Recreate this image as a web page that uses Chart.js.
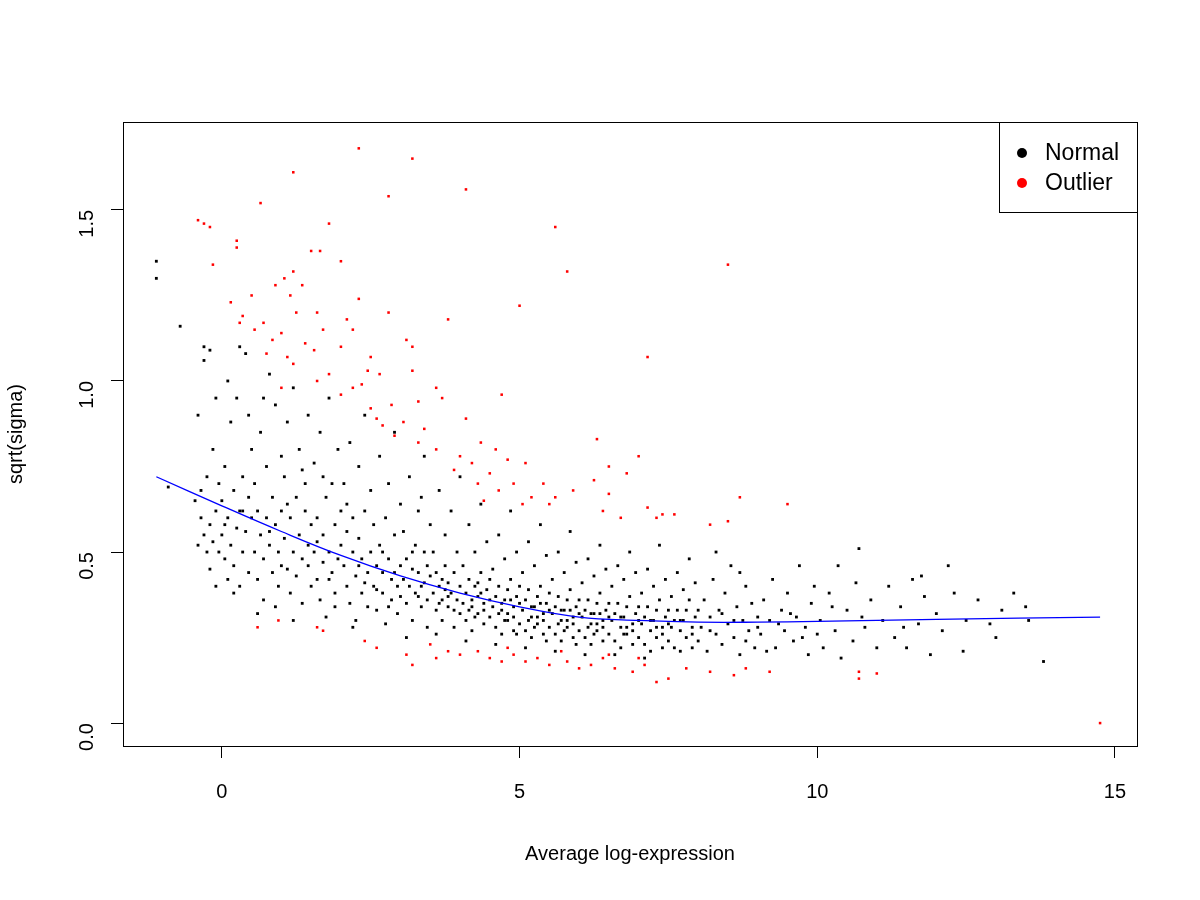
<!DOCTYPE html>
<html>
<head>
<meta charset="utf-8">
<script src="https://cdn.jsdelivr.net/npm/chart.js@4/dist/chart.umd.min.js"></script>
<style>
body { margin: 0; background: #fff; }
#wrap { width: 1200px; height: 900px; }
</style>
</head>
<body>
<div id="wrap"><canvas id="grafico" width="1200" height="900"></canvas></div>
<script>
// pontos (aproximados) - [x, y]
const pontosNormais = [
 [-1.1,1.35],[-1.1,1.30],[-0.7,1.16],[-0.9,0.69],
 [-0.45,0.65],[-0.4,0.9],[-0.35,0.6],[-0.3,0.55],[-0.3,1.06],[-0.25,0.5],[-0.25,0.72],[-0.2,0.58],[-0.2,0.45],[-0.15,0.8],[-0.15,0.53],[-0.1,0.62],[-0.1,0.4],[-0.05,0.7],[-0.05,0.5],[-0.3,1.1],[-0.2,1.09],[-0.1,0.95],[-0.4,0.52],[-0.35,0.68],
 [0,0.55],[0,0.65],[0.05,0.48],[0.05,0.75],[0.1,0.42],[0.1,0.6],[0.15,0.52],[0.15,0.88],[0.2,0.68],[0.2,0.46],[0.25,0.57],[0.25,0.95],[0.3,0.62],[0.3,0.4],[0.35,0.5],[0.35,0.72],[0.4,0.56],[0.4,1.08],[0.45,0.66],[0.45,0.44],[0.5,0.6],[0.5,0.8],[0.1,1.0],[0.3,1.1],[0.2,0.38],[0.45,0.9],[0.05,0.58],[0.35,0.62],
 [0.55,0.5],[0.55,0.7],[0.6,0.42],[0.6,0.62],[0.65,0.55],[0.65,0.85],[0.7,0.48],[0.7,0.36],[0.75,0.6],[0.75,0.75],[0.8,0.52],[0.8,1.02],[0.85,0.44],[0.85,0.66],[0.9,0.58],[0.9,0.93],[0.95,0.4],[0.95,0.5],[1.0,0.62],[1.0,0.78],[0.6,0.32],[0.9,0.34],[0.7,0.95],[1.0,0.46],[0.8,0.56],
 [1.05,0.54],[1.05,0.72],[1.1,0.45],[1.1,0.88],[1.15,0.6],[1.15,0.38],[1.2,0.5],[1.2,0.98],[1.25,0.66],[1.25,0.43],[1.3,0.55],[1.3,0.8],[1.35,0.48],[1.35,0.35],[1.4,0.62],[1.4,0.7],[1.45,0.52],[1.45,0.9],[1.5,0.4],[1.5,0.58],[1.2,0.3],[1.35,0.74],[1.45,0.46],[1.1,0.64],
 [1.55,0.5],[1.55,0.76],[1.6,0.42],[1.6,0.6],[1.65,0.36],[1.65,0.85],[1.7,0.55],[1.7,0.47],[1.75,0.66],[1.75,0.31],[1.8,0.5],[1.8,0.95],[1.85,0.44],[1.85,0.7],[1.9,0.58],[1.9,0.38],[1.95,0.48],[1.95,0.8],[2.0,0.52],[2.0,0.62],[1.7,0.72],[1.9,0.34],[1.6,0.53],[1.8,0.42],
 [2.05,0.46],[2.05,0.7],[2.1,0.4],[2.1,0.56],[2.15,0.35],[2.15,0.82],[2.2,0.5],[2.2,0.6],[2.25,0.43],[2.25,0.3],[2.3,0.54],[2.3,0.75],[2.35,0.38],[2.35,0.48],[2.4,0.62],[2.4,0.9],[2.45,0.44],[2.45,0.34],[2.5,0.5],[2.5,0.68],[2.2,0.28],[2.4,0.41],[2.3,0.46],[2.1,0.64],
 [2.55,0.4],[2.55,0.58],[2.6,0.46],[2.6,0.33],[2.65,0.52],[2.65,0.78],[2.7,0.38],[2.7,0.44],[2.75,0.6],[2.75,0.29],[2.8,0.48],[2.8,0.7],[2.85,0.36],[2.85,0.42],[2.9,0.55],[2.9,0.85],[2.95,0.4],[2.95,0.32],[3.0,0.46],[3.0,0.64],[2.6,0.39],[2.8,0.34],[2.7,0.5],[2.9,0.44],[3.0,0.37],
 [3.05,0.42],[3.05,0.56],[3.1,0.35],[3.1,0.48],[3.15,0.4],[3.15,0.72],[3.2,0.3],[3.2,0.45],[3.25,0.52],[3.25,0.38],[3.3,0.44],[3.3,0.62],[3.35,0.34],[3.35,0.4],[3.4,0.5],[3.4,0.78],[3.45,0.36],[3.45,0.28],[3.5,0.43],[3.5,0.58],[3.1,0.25],[3.3,0.37],[3.4,0.41],[3.2,0.5],[3.45,0.46],[3.35,0.66],
 [3.55,0.38],[3.55,0.5],[3.6,0.33],[3.6,0.44],[3.65,0.4],[3.65,0.68],[3.7,0.3],[3.7,0.36],[3.75,0.46],[3.75,0.55],[3.8,0.34],[3.8,0.41],[3.85,0.38],[3.85,0.62],[3.9,0.28],[3.9,0.44],[3.95,0.36],[3.95,0.5],[4.0,0.32],[4.0,0.4],[3.6,0.26],[3.7,0.42],[3.8,0.37],[3.9,0.33],[4.0,0.72],[3.75,0.39],[3.65,0.35],
 [4.05,0.35],[4.05,0.46],[4.1,0.3],[4.1,0.38],[4.15,0.42],[4.15,0.58],[4.2,0.27],[4.2,0.34],[4.25,0.4],[4.25,0.5],[4.3,0.32],[4.3,0.37],[4.35,0.44],[4.35,0.64],[4.4,0.29],[4.4,0.35],[4.45,0.39],[4.45,0.53],[4.5,0.31],[4.5,0.42],[4.1,0.24],[4.2,0.36],[4.3,0.41],[4.4,0.33],[4.5,0.36],[4.25,0.31],[4.35,0.38],[4.15,0.33],
 [4.55,0.34],[4.55,0.45],[4.6,0.28],[4.6,0.37],[4.65,0.4],[4.65,0.55],[4.7,0.26],[4.7,0.33],[4.75,0.36],[4.75,0.48],[4.8,0.3],[4.8,0.39],[4.85,0.42],[4.85,0.62],[4.9,0.27],[4.9,0.34],[4.95,0.37],[4.95,0.5],[5.0,0.29],[5.0,0.4],[4.6,0.23],[4.7,0.35],[4.8,0.32],[4.9,0.31],[5.0,0.35],[4.75,0.3],[4.85,0.36],[4.65,0.32],[4.95,0.26],
 [5.05,0.33],[5.05,0.44],[5.1,0.27],[5.1,0.36],[5.15,0.39],[5.15,0.53],[5.2,0.25],[5.2,0.31],[5.25,0.34],[5.25,0.46],[5.3,0.29],[5.3,0.37],[5.35,0.4],[5.35,0.58],[5.4,0.26],[5.4,0.32],[5.45,0.35],[5.45,0.49],[5.5,0.28],[5.5,0.38],[5.1,0.22],[5.2,0.34],[5.3,0.31],[5.4,0.3],[5.5,0.33],[5.25,0.28],[5.35,0.35],[5.15,0.3],[5.45,0.24],
 [5.55,0.32],[5.55,0.42],[5.6,0.26],[5.6,0.34],[5.65,0.37],[5.65,0.5],[5.7,0.24],[5.7,0.3],[5.75,0.33],[5.75,0.44],[5.8,0.28],[5.8,0.36],[5.85,0.39],[5.85,0.56],[5.9,0.25],[5.9,0.31],[5.95,0.34],[5.95,0.47],[6.0,0.27],[6.0,0.36],[5.6,0.21],[5.7,0.33],[5.8,0.3],[5.9,0.29],[6.0,0.32],[5.75,0.27],[5.85,0.33],[5.65,0.29],[5.95,0.23],
 [6.05,0.31],[6.05,0.41],[6.1,0.25],[6.1,0.33],[6.15,0.36],[6.15,0.48],[6.2,0.23],[6.2,0.29],[6.25,0.32],[6.25,0.43],[6.3,0.27],[6.3,0.35],[6.35,0.38],[6.35,0.52],[6.4,0.24],[6.4,0.3],[6.45,0.33],[6.45,0.45],[6.5,0.26],[6.5,0.35],[6.1,0.2],[6.2,0.32],[6.3,0.29],[6.4,0.28],[6.5,0.31],[6.25,0.26],[6.35,0.32],[6.15,0.28],
 [6.55,0.3],[6.55,0.4],[6.6,0.24],[6.6,0.32],[6.65,0.35],[6.65,0.46],[6.7,0.22],[6.7,0.28],[6.75,0.31],[6.75,0.42],[6.8,0.26],[6.8,0.34],[6.85,0.37],[6.85,0.5],[6.9,0.23],[6.9,0.29],[6.95,0.32],[6.95,0.44],[7.0,0.25],[7.0,0.34],[6.6,0.2],[6.7,0.31],[6.8,0.28],[6.9,0.27],[7.0,0.3],[6.75,0.26],
 [7.05,0.29],[7.05,0.38],[7.1,0.23],[7.1,0.31],[7.15,0.34],[7.15,0.45],[7.2,0.21],[7.2,0.27],[7.25,0.3],[7.25,0.4],[7.3,0.25],[7.3,0.33],[7.35,0.36],[7.35,0.52],[7.4,0.22],[7.4,0.28],[7.45,0.31],[7.45,0.42],[7.5,0.24],[7.5,0.33],[7.1,0.19],[7.2,0.3],[7.3,0.28],[7.4,0.26],[7.5,0.29],
 [7.55,0.28],[7.55,0.37],[7.6,0.22],[7.6,0.3],[7.65,0.33],[7.65,0.44],[7.7,0.21],[7.7,0.27],[7.75,0.3],[7.75,0.39],[7.8,0.25],[7.8,0.33],[7.85,0.36],[7.85,0.48],[7.9,0.22],[7.9,0.28],[7.95,0.31],[7.95,0.41],[8.0,0.24],[8.0,0.33],[7.7,0.3],[7.9,0.26],
 [8.05,0.28],[8.1,0.36],[8.15,0.21],[8.2,0.31],[8.25,0.42],[8.3,0.26],[8.35,0.33],[8.4,0.23],[8.45,0.38],[8.5,0.29],[8.55,0.46],[8.6,0.25],[8.65,0.34],[8.7,0.2],[8.75,0.3],[8.8,0.4],[8.85,0.27],[8.9,0.35],[8.95,0.22],[9.0,0.31],[8.2,0.27],[8.4,0.32],[8.6,0.3],[8.8,0.24],[9.0,0.28],[8.3,0.5],[8.7,0.44],
 [9.05,0.26],[9.1,0.36],[9.2,0.3],[9.25,0.42],[9.3,0.22],[9.4,0.33],[9.45,0.27],[9.5,0.38],[9.6,0.24],[9.65,0.31],[9.7,0.46],[9.8,0.28],[9.85,0.2],[9.9,0.35],[10.0,0.26],[9.35,0.29],[9.55,0.32],[9.75,0.25],[9.95,0.4],[9.15,0.21],
 [10.05,0.3],[10.1,0.22],[10.2,0.38],[10.3,0.27],[10.35,0.46],[10.4,0.19],[10.5,0.33],[10.6,0.24],[10.65,0.41],[10.7,0.51],[10.8,0.28],[10.9,0.36],[11.0,0.22],[10.25,0.34],[10.75,0.31],
 [11.1,0.3],[11.2,0.4],[11.3,0.25],[11.4,0.34],[11.5,0.22],[11.6,0.42],[11.7,0.29],[11.8,0.37],[11.9,0.2],[12.0,0.32],[11.45,0.28],[11.75,0.43],
 [12.1,0.27],[12.3,0.38],[12.5,0.3],[12.45,0.21],[12.7,0.36],[12.9,0.29],[13.1,0.33],[13.3,0.38],[13.5,0.34],[13.55,0.3],[13.8,0.18],[12.2,0.46],[13.0,0.25]
];

const pontosOutlier = [
 [2.3,1.68],[3.2,1.65],[1.2,1.61],[4.1,1.56],[2.8,1.54],[0.65,1.52],[-0.4,1.47],[-0.3,1.46],[-0.2,1.45],[1.8,1.46],[5.6,1.45],[0.25,1.41],[0.25,1.39],[1.5,1.38],[1.65,1.38],[-0.15,1.34],[2.0,1.35],[5.8,1.32],[8.5,1.34],[1.2,1.32],[1.05,1.30],[1.35,1.28],[0.9,1.28],[0.5,1.25],[2.3,1.24],[0.15,1.23],[1.15,1.25],[5.0,1.22],[1.25,1.2],[0.35,1.19],[0.3,1.17],[1.6,1.2],[2.8,1.2],[3.8,1.18],[0.7,1.17],[2.1,1.18],[0.55,1.15],[1.0,1.14],[1.7,1.15],[2.2,1.15],[0.85,1.12],[1.4,1.11],[3.1,1.12],[3.2,1.1],[2.0,1.1],[0.75,1.08],[1.1,1.07],[1.55,1.09],[2.5,1.07],[7.15,1.07],[1.2,1.05],[2.45,1.03],[1.8,1.02],[2.65,1.02],[3.2,1.03],[1.6,1.0],[2.2,0.98],[2.35,0.99],[1.0,0.98],[3.6,0.98],[2.0,0.96],[4.7,0.96],[3.7,0.95],[2.5,0.92],[2.85,0.93],[3.3,0.94],[2.6,0.89],[3.05,0.88],[2.7,0.87],[3.4,0.86],[4.1,0.89],[2.9,0.84],[3.3,0.82],[4.35,0.82],[6.3,0.83],[3.6,0.8],[4.0,0.78],[4.6,0.8],[4.2,0.76],[4.8,0.77],[3.9,0.74],[4.5,0.73],[5.1,0.76],[6.5,0.75],[7.0,0.78],[4.3,0.7],[4.9,0.7],[5.4,0.7],[6.25,0.71],[6.8,0.73],[4.65,0.68],[5.2,0.66],[5.6,0.66],[5.9,0.68],[4.4,0.65],[5.05,0.64],[5.5,0.64],[6.5,0.67],[7.15,0.63],[8.7,0.66],[6.4,0.62],[7.3,0.6],[7.6,0.61],[6.7,0.6],[8.5,0.59],[8.2,0.58],[9.5,0.64],[7.4,0.61],
 [0.6,0.28],[1.6,0.28],[1.7,0.27],[0.95,0.3],[2.4,0.24],[2.6,0.22],[3.1,0.2],[3.2,0.17],[3.5,0.23],[3.8,0.21],[4.0,0.2],[4.3,0.21],[4.5,0.19],[4.7,0.18],[4.9,0.2],[5.1,0.18],[5.3,0.19],[5.5,0.17],[5.8,0.18],[6.0,0.16],[6.2,0.17],[6.4,0.19],[6.6,0.16],[6.9,0.15],[7.1,0.17],[7.3,0.12],[7.5,0.13],[7.8,0.16],[8.2,0.15],[8.6,0.14],[8.8,0.16],[9.2,0.15],[10.7,0.13],[10.7,0.15],[11.0,0.145],[4.8,0.22],[5.7,0.21],[6.5,0.2],[7.0,0.19],[3.6,0.19],[14.75,0.0]
];

const tendenciaX = [-1.1, 0, 1, 2, 3, 4, 5, 6, 7, 8, 9, 10, 12, 14.75];
const tendenciaY = [0.72, 0.635, 0.56, 0.49, 0.43, 0.38, 0.34, 0.31, 0.30, 0.295, 0.295, 0.297, 0.303, 0.31];

const legendaNomes = ['Normal', 'Outlier'];
const legendaCores = ['#000000', '#ff0000'];

const fonte = 'Liberation Sans, Arial, sans-serif';

const caixaPlugin = {
    id: 'caixa',
    afterDraw(chart) {
        const { ctx, chartArea: a } = chart;
        ctx.save();
        ctx.strokeStyle = '#000';
        ctx.lineWidth = 1;
        ctx.strokeRect(a.left + 0.5, a.top + 0.5, a.right - a.left, a.bottom - a.top);
        // legenda no canto superior direito
        const lx = a.right - 138, ly = a.top;
        ctx.strokeRect(lx + 0.5, ly + 0.5, 138, 90);
        ctx.font = '23px ' + fonte;
        ctx.textBaseline = 'middle';
        legendaNomes.forEach((nome, i) => {
            const yy = ly + 31 + i * 30;
            ctx.fillStyle = legendaCores[i];
            ctx.beginPath();
            ctx.arc(lx + 23, yy, 5, 0, Math.PI * 2);
            ctx.fill();
            ctx.fillStyle = '#000';
            ctx.fillText(nome, lx + 46, yy + 1);
        });
        ctx.restore();
    }
};

new Chart(document.getElementById('grafico'), {
    type: 'scatter',
    data: {
        datasets: [
            {
                type: 'line',
                data: tendenciaX.map((x, i) => ({ x: x, y: tendenciaY[i] })),
                borderColor: '#0000ff',
                borderWidth: 1.3,
                pointRadius: 0,
                tension: 0.4,
                fill: false
            },
            {
                data: pontosOutlier.map(p => ({ x: p[0], y: p[1] })),
                backgroundColor: '#ff0000',
                pointStyle: 'rect',
                pointRadius: 1.8,
                borderWidth: 0
            },
            {
                data: pontosNormais.map(p => ({ x: p[0], y: p[1] })),
                backgroundColor: '#000000',
                pointStyle: 'rect',
                pointRadius: 2,
                borderWidth: 0
            }
        ]
    },
    options: {
        responsive: false,
        animation: false,
        layout: { padding: { top: 122, right: 63, left: 0, bottom: 0 } },
        plugins: { legend: { display: false }, tooltip: { enabled: false } },
        scales: {
            x: {
                type: 'linear',
                min: -1.66, max: 15.37,
                afterFit: s => { s.height = 154; },
                border: { display: false },
                grid: { drawOnChartArea: false, drawTicks: true, tickLength: 12, color: '#000' },
                ticks: { stepSize: 5, includeBounds: false, color: '#000', font: { size: 20, family: fonte }, padding: 22 },
                title: { display: true, text: 'Average log-expression', color: '#000', font: { size: 20, family: fonte }, padding: { top: 0, bottom: 34 } }
            },
            y: {
                min: -0.067, max: 1.757,
                afterFit: s => { s.width = 123; },
                border: { display: false },
                grid: { drawOnChartArea: false, drawTicks: true, tickLength: 12, color: '#000' },
                ticks: { stepSize: 0.5, includeBounds: false, minRotation: 90, maxRotation: 90, color: '#000',
                         font: { size: 20, family: fonte }, padding: 24, callback: v => v.toFixed(1) },
                title: { display: true, text: 'sqrt(sigma)', color: '#000', font: { size: 20, family: fonte }, padding: { top: 4, bottom: 0 } }
            }
        }
    },
    plugins: [caixaPlugin]
});
</script>
</body>
</html>
